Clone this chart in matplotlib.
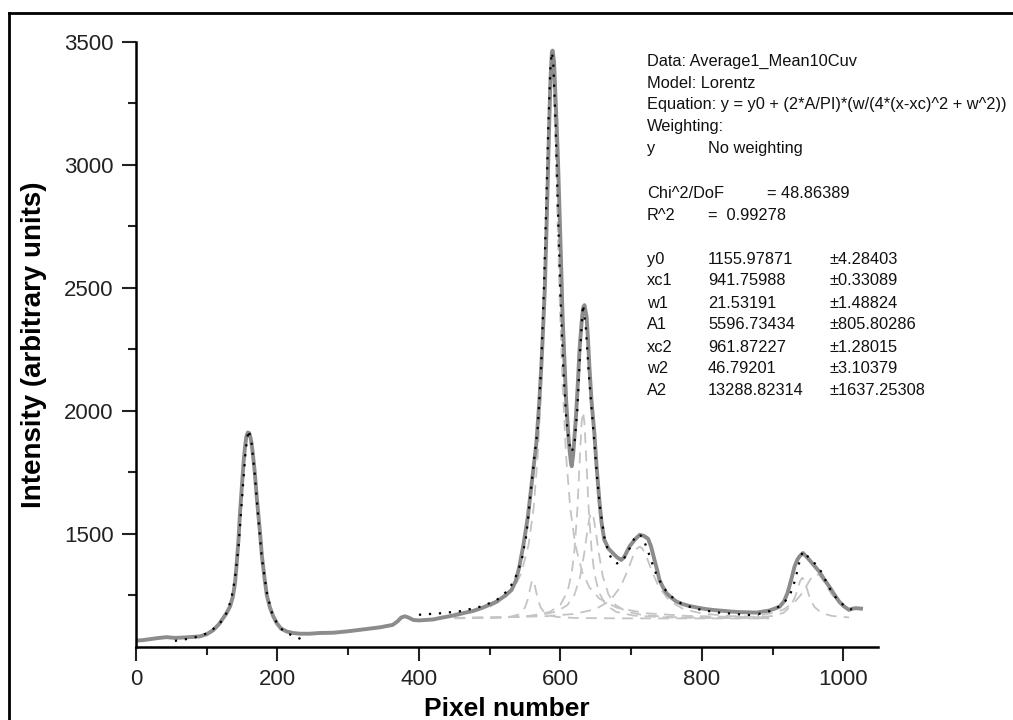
import matplotlib
matplotlib.use('Agg')
import matplotlib.pyplot as plt
from matplotlib.lines import Line2D

plt.rcParams['font.family'] = ['Liberation Sans', 'DejaVu Sans']

# measured spectrum (grey line)
spec_x = [0, 10, 20, 30, 43, 55, 70, 90, 100, 109, 118, 128, 133, 137, 140, 142, 145, 147, 150, 152,
          154, 156, 158, 160, 162, 163, 165, 168, 171, 175, 178, 182, 185, 189, 194, 199, 205, 213, 222, 232,
          245, 260, 279, 300, 326, 345, 363, 370, 375, 380, 385, 392, 400, 410, 420, 430, 443, 455, 466, 476,
          490, 500, 510, 520, 531, 537, 542, 548, 554, 560, 566, 570, 573, 575, 578, 580, 582, 584, 586, 588,
          589, 591, 593, 595, 597, 599, 601, 603, 606, 608, 611, 613, 615, 616, 618, 620, 622, 625, 627, 630,
          632, 634, 637, 639, 641, 644, 648, 651, 655, 658, 662, 668, 674, 680, 686, 690, 693, 698, 705, 712,
          718, 724, 728, 733, 737, 740, 745, 750, 757, 764, 772, 782, 794, 806, 818, 830, 842, 853, 865, 877,
          886, 895, 903, 910, 916, 921, 926, 931, 935, 938, 943, 947, 952, 959, 966, 973, 980, 987, 994, 1001,
          1008, 1013, 1018, 1025]
spec_y = [1066, 1068, 1072, 1076, 1080, 1077, 1079, 1083, 1092, 1108, 1135, 1178, 1205, 1245, 1300, 1367, 1480, 1585, 1710, 1787,
          1850, 1896, 1912, 1910, 1890, 1875, 1830, 1748, 1640, 1516, 1410, 1313, 1250, 1204, 1165, 1137, 1115, 1103, 1097, 1094,
          1094, 1097, 1098, 1104, 1113, 1120, 1130, 1145, 1160, 1165, 1160, 1150, 1148, 1150, 1152, 1158, 1165, 1172, 1180, 1186,
          1200, 1212, 1225, 1245, 1272, 1310, 1367, 1460, 1570, 1720, 1869, 2030, 2180, 2300, 2500, 2700, 2930, 3150, 3350, 3460,
          3465, 3420, 3280, 3140, 2980, 2790, 2600, 2390, 2180, 2050, 1909, 1840, 1787, 1775, 1820, 1900, 1978, 2130, 2248, 2360,
          2417, 2430, 2383, 2290, 2180, 2040, 1909, 1780, 1638, 1550, 1476, 1440, 1422, 1405, 1394, 1405, 1422, 1450, 1476, 1496,
          1492, 1480, 1450, 1394, 1350, 1313, 1283, 1259, 1240, 1225, 1215, 1207, 1200, 1194, 1190, 1187, 1184, 1182, 1181, 1180,
          1184, 1188, 1196, 1204, 1225, 1259, 1310, 1367, 1395, 1408, 1422, 1410, 1394, 1370, 1347, 1315, 1286, 1255, 1225, 1205,
          1191, 1196, 1198, 1196]

# fitted curves (black dotted)
fit0_x = [55, 80, 100, 115, 125, 130, 135, 140, 145, 150, 155, 159, 163, 168, 173, 178, 185, 192, 200, 210, 222, 235]
fit0_y = [1065, 1076, 1095, 1125, 1160, 1191, 1240, 1320, 1450, 1650, 1840, 1923, 1880, 1740, 1560, 1400, 1260, 1180, 1132, 1100, 1086, 1070]

fit1_x = [400, 430, 460, 490, 510, 525, 535, 545, 552, 558, 563, 568, 573, 577, 580, 583, 586, 588, 590, 593,
          596, 600, 604, 608, 612, 616, 620, 624, 628, 632, 636, 640, 644, 648, 652, 656, 662, 668, 674, 680,
          686, 692, 698, 704, 708, 712, 716, 722, 728, 735, 745, 755, 770, 790, 820, 860, 880]
fit1_y = [1171, 1177, 1186, 1206, 1231, 1268, 1311, 1389, 1497, 1669, 1806, 1931, 2192, 2525, 2840, 3166, 3404, 3459, 3411, 3181,
          2865, 2468, 2173, 1979, 1870, 1832, 1871, 2008, 2252, 2433, 2336, 2156, 2014, 1871, 1726, 1607, 1488, 1423, 1391, 1380,
          1386, 1409, 1442, 1478, 1494, 1498, 1485, 1445, 1394, 1340, 1284, 1249, 1218, 1196, 1181, 1171, 1169]

fit2_x = [880, 900, 915, 925, 932, 936, 940, 944, 948, 952, 956, 960, 965, 970, 976, 982, 990, 1000, 1012]
fit2_y = [1174, 1189, 1215, 1255, 1313, 1363, 1412, 1430, 1415, 1398, 1387, 1379, 1364, 1339, 1304, 1272, 1238, 1211, 1192]

# single peak components (grey dashed)
comp1_x = [450, 500, 520, 530, 540, 545, 550, 554, 557, 559, 561, 563, 565, 568, 572, 577, 582, 590, 600, 620, 660, 750, 895]
comp1_y = [1156.6, 1158.0, 1160.4, 1163.6, 1171.7, 1181.2, 1201.2, 1234.5, 1274.3, 1301.1, 1313, 1301.1, 1274.3, 1234.5,
           1201.2, 1181.2, 1171.7, 1164.6, 1160.9, 1158.2, 1156.8, 1156.2, 1156.1]

comp2_x = [450, 480, 500, 520, 535, 545, 555, 562, 568, 573, 577, 580, 583, 586, 588, 590, 593, 596, 599, 603,
           608, 614, 621, 631, 641, 655, 680, 720, 780, 895]
comp2_y = [1175.6, 1187.9, 1203.6, 1234.6, 1282.7, 1342.8, 1455.7, 1602, 1817.7, 2113, 2455.5, 2773, 3098.5, 3334.4, 3386,
           3334.4, 3098.5, 2773, 2455.5, 2113, 1817.7, 1602, 1455.7, 1342.8, 1282.7, 1236.9, 1199.6, 1177.4, 1166.2, 1160.0]

comp3_x = [450, 520, 560, 585, 600, 610, 616, 620, 624, 627, 630, 632, 634, 637, 640, 644, 648, 654, 664, 679, 704, 750, 820, 895]
comp3_y = [1157.8, 1160.8, 1167.5, 1182.6, 1211.4, 1265.1, 1341, 1436.6, 1601.4, 1780, 1952, 1996, 1952, 1780, 1601.4,
           1436.6, 1341, 1265.1, 1211.4, 1182.6, 1167.5, 1160.3, 1157.7, 1156.9]

comp4_x = [450, 520, 570, 595, 610, 620, 628, 634, 638, 641, 644, 647, 650, 654, 660, 668, 678, 693, 718, 760, 820, 895]
comp4_y = [1157.9, 1160.7, 1168.9, 1184.3, 1210.8, 1253.5, 1327, 1426.1, 1510.5, 1564.3, 1586, 1564.3, 1510.5, 1426.1,
           1327, 1253.5, 1210.8, 1184.3, 1168.9, 1161.3, 1158.3, 1157.2]

comp5_x = [450, 520, 580, 620, 650, 670, 685, 695, 702, 708, 712, 716, 722, 729, 739, 754, 774, 800, 840, 895]
comp5_y = [1158.4, 1160.5, 1165.3, 1174.6, 1194.1, 1227.9, 1284.7, 1350.4, 1404.8, 1440.1, 1448, 1440.1, 1404.8, 1350.4,
           1284.7, 1227.9, 1194.1, 1176.2, 1165.9, 1160.9]

comp6_x = [885, 900, 915, 925, 932, 936, 939, 942, 945, 948, 952, 959, 969, 984, 1008]
comp6_y = [1162.0, 1166.2, 1178.6, 1203.3, 1244.7, 1282.2, 1309.5, 1321.5, 1309.5, 1282.2, 1244.7, 1203.3, 1178.6, 1166.2, 1160.3]

comp7_x = [885, 900, 915, 930, 940, 948, 954, 958, 962, 966, 970, 976, 984, 994, 1008]
comp7_y = [1170.5, 1178.5, 1191.9, 1219, 1252, 1289.1, 1317.9, 1331.7, 1336.8, 1331.7, 1317.9, 1289.1, 1252, 1219, 1193.2]

fit_text = [
    ('Data: Average1_Mean10Cuv', '', ''),
    ('Model: Lorentz', '', ''),
    ('Equation: y = y0 + (2*A/PI)*(w/(4*(x-xc)^2 + w^2))', '', ''),
    ('Weighting:', '', ''),
    ('y', 'No weighting', ''),
    ('', '', ''),
    ('Chi^2/DoF', '', '= 48.86389'),
    ('R^2', '=  0.99278', ''),
    ('', '', ''),
    ('y0', '1155.97871', '\u00b14.28403'),
    ('xc1', '941.75988', '\u00b10.33089'),
    ('w1', '21.53191', '\u00b11.48824'),
    ('A1', '5596.73434', '\u00b1805.80286'),
    ('xc2', '961.87227', '\u00b11.28015'),
    ('w2', '46.79201', '\u00b13.10379'),
    ('A2', '13288.82314', '\u00b11637.25308'),
]

fig = plt.figure(figsize=(10.13, 7.2), dpi=100)
ax = fig.add_axes([136 / 1013, 1 - 647 / 720, (878 - 136) / 1013, (647 - 42) / 720])

dash_style = dict(color='#c4c4c4', lw=1.3, ls=(0, (6, 4)))
for cx, cy in [(comp1_x, comp1_y), (comp2_x, comp2_y), (comp3_x, comp3_y), (comp4_x, comp4_y),
               (comp5_x, comp5_y), (comp6_x, comp6_y), (comp7_x, comp7_y)]:
    ax.plot(cx, cy, **dash_style)

ax.plot(spec_x, spec_y, color='#8c8c8c', lw=2.8, solid_joinstyle='round')

dot_style = dict(color='black', lw=1.6, ls=(0, (1, 3.5)))
for fx, fy in [(fit0_x, fit0_y), (fit1_x, fit1_y), (fit2_x, fit2_y)]:
    ax.plot(fx, fy, **dot_style)

ax.set_xlim(0, 1049)
ax.set_ylim(1040, 3500)
ax.set_xticks([0, 200, 400, 600, 800, 1000])
ax.set_xticks([100, 300, 500, 700, 900], minor=True)
ax.set_yticks([1500, 2000, 2500, 3000, 3500])
ax.set_yticks([1250, 1750, 2250, 2750, 3250], minor=True)
for s in ['top', 'right']:
    ax.spines[s].set_visible(False)
for s in ['left', 'bottom']:
    ax.spines[s].set_linewidth(1.8)
ax.spines['left'].set_bounds(1040, 3500)
ax.tick_params(which='major', direction='out', length=10, width=1.5, labelsize=16, pad=6, colors='#222222')
ax.tick_params(which='minor', direction='out', length=6, width=1.5, colors='#222222')
ax.set_xlabel('Pixel number', fontsize=19, fontweight='bold', labelpad=5)
ax.set_ylabel('Intensity (arbitrary units)', fontsize=20, fontweight='bold', labelpad=12)

# fit report text
y_px = 61
for lab, val, err in fit_text:
    yf = 1 - y_px / 720
    if lab:
        fig.text(647 / 1013, yf, lab, fontsize=11.8, va='center', ha='left', color='#111111')
    if val:
        fig.text(708 / 1013, yf, val, fontsize=11.8, va='center', ha='left', color='#111111')
    if err:
        xe = 767 if lab.startswith('Chi') else 829
        fig.text(xe / 1013, yf, err, fontsize=11.8, va='center', ha='left', color='#111111')
    y_px += 22

# outer frame (left and top edges visible)
fig.add_artist(Line2D([9 / 1013, 9 / 1013], [0, 1 - 13 / 720], color='black', lw=2))
fig.add_artist(Line2D([9 / 1013, 1], [1 - 13 / 720, 1 - 13 / 720], color='black', lw=2))

fig.savefig('out.png', dpi=100)
